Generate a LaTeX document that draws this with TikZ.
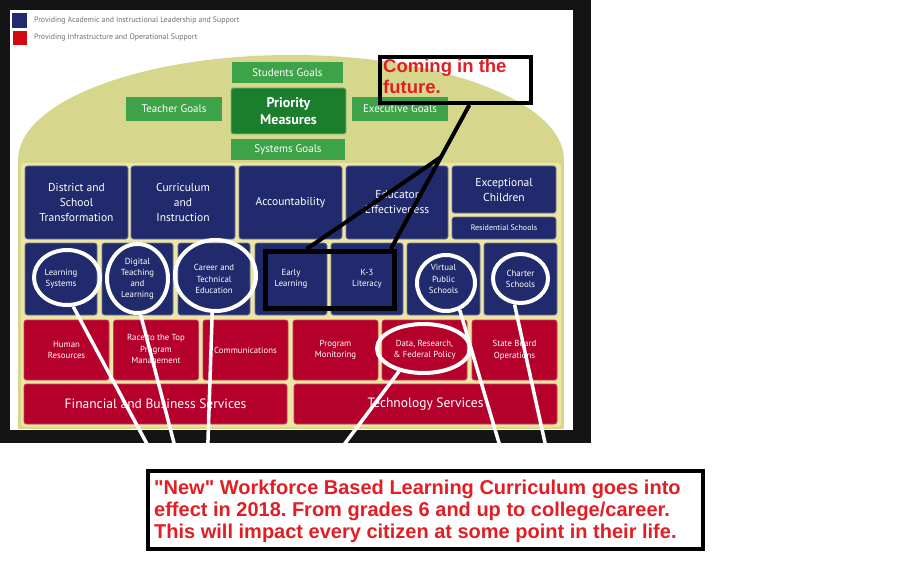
\documentclass[tikz,border=0pt]{standalone}
\usepackage{fontspec}
\setmainfont{Liberation Sans}[Ligatures=TeXOff]
\newfontfamily\dfont{PT Sans}
\usetikzlibrary{shapes.geometric}
\definecolor{navyb}{RGB}{33,42,108}
\definecolor{crim}{RGB}{180,0,42}
\definecolor{lgreen}{RGB}{62,162,72}
\definecolor{dgreen}{RGB}{26,126,44}
\definecolor{olive}{RGB}{214,215,140}
\definecolor{paley}{RGB}{236,230,162}
\definecolor{annot}{RGB}{226,30,36}
\definecolor{legtext}{RGB}{110,110,120}
\definecolor{legred}{RGB}{210,10,15}
\frenchspacing
\begin{document}
\begin{tikzpicture}[x=1pt,y=-1pt,
  bbox/.style={fill=navyb, draw=navyb!65!white, line width=0.8pt, rounded corners=2.5pt, text=white, align=center, inner sep=1pt},
  rbox/.style={fill=crim, draw=crim!75!white, line width=0.8pt, rounded corners=2.5pt, text=white, align=center, inner sep=1pt},
  gbox/.style={fill=lgreen, text=white, align=center, inner sep=0pt, font=\dfont\fontsize{11}{12}\selectfont},
  fbig/.style={font=\dfont\fontsize{11.5}{15}\selectfont},
  fmid/.style={font=\dfont\fontsize{8.8}{11.2}\selectfont},
  fred/.style={font=\dfont\fontsize{8.8}{11.5}\selectfont},
  flarge/.style={font=\dfont\fontsize{13.5}{16}\selectfont},
  ring/.style={draw=white, line width=4pt, ellipse, inner sep=0pt},
  wline/.style={white, line width=3.5pt},
  bline/.style={black, line width=4pt, line join=round},
  anntext/.style={text=annot, align=left, inner sep=0pt, anchor=north west}
]
\useasboundingbox (0,0) rectangle (917,580);
\fill[white] (0,0) rectangle (917,580);
% frame
\fill[black!92] (0,0) rectangle (591,443);
\fill[white] (10,10) rectangle (573,430);
% legend
\node[fill=navyb, minimum size=15, inner sep=0] (lb) at (19.5,20.5) {};
\node[fill=legred, minimum size=14, inner sep=0] (lr) at (19.5,38) {};
\node[anchor=west, inner sep=0, text=legtext, font=\dfont\fontsize{7.8}{9}\selectfont] (lt1) at (34,20.5) {Providing Academic and Instructional Leadership and Support};
\node[anchor=west, inner sep=0, text=legtext, font=\dfont\fontsize{7.8}{9}\selectfont] (lt2) at (34,38) {Providing Infrastructure and Operational Support};
% arch
\fill[olive] (291,160) ellipse [x radius=273pt, y radius=105pt];
\fill[olive] (18,160) rectangle (564,429);
\fill[paley, rounded corners=3pt] (21,163) rectangle (561,427);
% green goals
\node[gbox, minimum width=111, minimum height=21] (sg) at (287.5,72.5) {Students Goals};
\node[gbox, fill=dgreen, draw=lgreen!70!white, line width=0.8pt, rounded corners=2pt, minimum width=115, minimum height=46, font=\dfont\bfseries\fontsize{14}{17}\selectfont] (pm) at (288.5,111) {Priority\\Measures};
\node[gbox, minimum width=114, minimum height=21] (syg) at (288,149.5) {Systems Goals};
\node[gbox, minimum width=96, minimum height=24] (tg) at (174,109) {Teacher Goals};
\node[gbox, minimum width=96, minimum height=24] (eg) at (400,109) {Executive Goals};
% blue row 1
\node[bbox, fbig, minimum width=103, minimum height=73] (dst) at (76.5,202.5) {District and\\School\\Transformation};
\node[bbox, fbig, minimum width=104, minimum height=73] (cur) at (183,202.5) {Curriculum\\and\\Instruction};
\node[bbox, fbig, minimum width=103, minimum height=73] (acc) at (290.5,202.5) {Accountability};
\node[bbox, fbig, minimum width=102, minimum height=73] (edu) at (397,202.5) {Educator\\Effectiveness};
\node[bbox, fbig, minimum width=104, minimum height=47] (exc) at (504,189.5) {Exceptional\\Children};
\node[bbox, font=\dfont\fontsize{8}{9}\selectfont, minimum width=104, minimum height=22] (res) at (504,228) {Residential Schools};
% blue row 2
\node[bbox, fmid, minimum width=72, minimum height=72] (ls) at (61,279) {Learning\\Systems};
\node[bbox, fmid, minimum width=71, minimum height=72] (dtl) at (137.5,279) {Digital\\Teaching\\and\\Learning};
\node[bbox, fmid, minimum width=72, minimum height=72] (cte) at (214,279) {Career and\\Technical\\Education};
\node[bbox, fmid, minimum width=72, minimum height=72] (el) at (291,279) {Early\\Learning};
\node[bbox, fmid, minimum width=72, minimum height=72] (k3) at (367,279) {K-3\\Literacy};
\node[bbox, fmid, minimum width=73, minimum height=72] (vps) at (443.5,279) {Virtual\\Public\\Schools};
\node[bbox, fmid, minimum width=73, minimum height=72] (chs) at (520.5,279) {Charter\\Schools};
% red row 1
\node[rbox, fred, minimum width=85, minimum height=60] (hr) at (66.5,350) {Human\\Resources};
\node[rbox, fred, minimum width=85, minimum height=60] (rtt) at (156,350) {Race to the Top\\Program\\Management};
\node[rbox, fred, minimum width=85, minimum height=60] (com) at (245.5,350) {Communications};
\node[rbox, fred, minimum width=85, minimum height=60] (prm) at (335.5,350) {Program\\Monitoring};
\node[rbox, fred, minimum width=85, minimum height=60] (drf) at (424.5,350) {Data, Research,\\\& Federal Policy};
\node[rbox, fred, minimum width=85, minimum height=60] (sbo) at (514.5,350) {State Board\\Operations};
% red row 2
\node[rbox, flarge, minimum width=263, minimum height=40] (fbs) at (155.5,404) {Financial and Business Services};
\node[rbox, flarge, minimum width=263, minimum height=40] (ts) at (425.5,404) {Technology Services};
% white rings
\node[ring, minimum width=66, minimum height=55] (c1) at (67,277.5) {};
\node[ring, minimum width=61, minimum height=69] (c2) at (137.5,278.5) {};
\node[ring, minimum width=81, minimum height=71] (c3) at (215.5,275.5) {};
\node[ring, minimum width=58, minimum height=56] (c4) at (446,283) {};
\node[ring, minimum width=55, minimum height=49] (c5) at (520.5,278.5) {};
\node[ring, minimum width=93, minimum height=49] (c6) at (423.5,348.5) {};
% white connector lines
\coordinate (e1) at (161,470);
\coordinate (e2) at (181,470);
\coordinate (e3) at (207,470);
\coordinate (e4) at (325,470);
\coordinate (e5) at (507,470);
\coordinate (e6) at (551,470);
\draw[wline] (c1.-78) -- (e1);
\draw[wline] (c2.-85) -- (e2);
\draw[wline] (c3.-95) -- (e3);
\draw[wline] (c6.-137) -- (e4);
\draw[wline] (c4.-63) -- (e5);
\draw[wline] (c5.-103) -- (e6);
% bottom text box
\node[draw=black, line width=4.5pt, minimum width=555, minimum height=78, inner sep=0] (tbox) at (425.5,510) {};
\node[anchor=west, align=left, text=annot, inner sep=0, font=\bfseries\fontsize{20}{22}\selectfont] (ttext) at (154,511)
  {"New" Workforce Based Learning Curriculum goes into\\effect in 2018. From grades 6 and up to college/career.\\This will impact every citizen at some point in their life.};
% callout
\node[draw=black, line width=4pt, minimum width=151, minimum height=46, inner sep=0] (cbox) at (455.5,80) {};
\node[anntext, font=\bfseries\fontsize{18.5}{21}\selectfont] (ctext) at (383,59) {Coming in the\\future.};
\node[draw=black, line width=5pt, minimum width=129, minimum height=57, inner sep=0] (elk) at (330,280) {};
\coordinate (apex) at (441,157);
\draw[bline] (cbox.-61.5) -- (apex);
\draw[bline] (apex) -- (elk.127);
\draw[bline] (apex) -- (elk.27.4);
\end{tikzpicture}
\end{document}
